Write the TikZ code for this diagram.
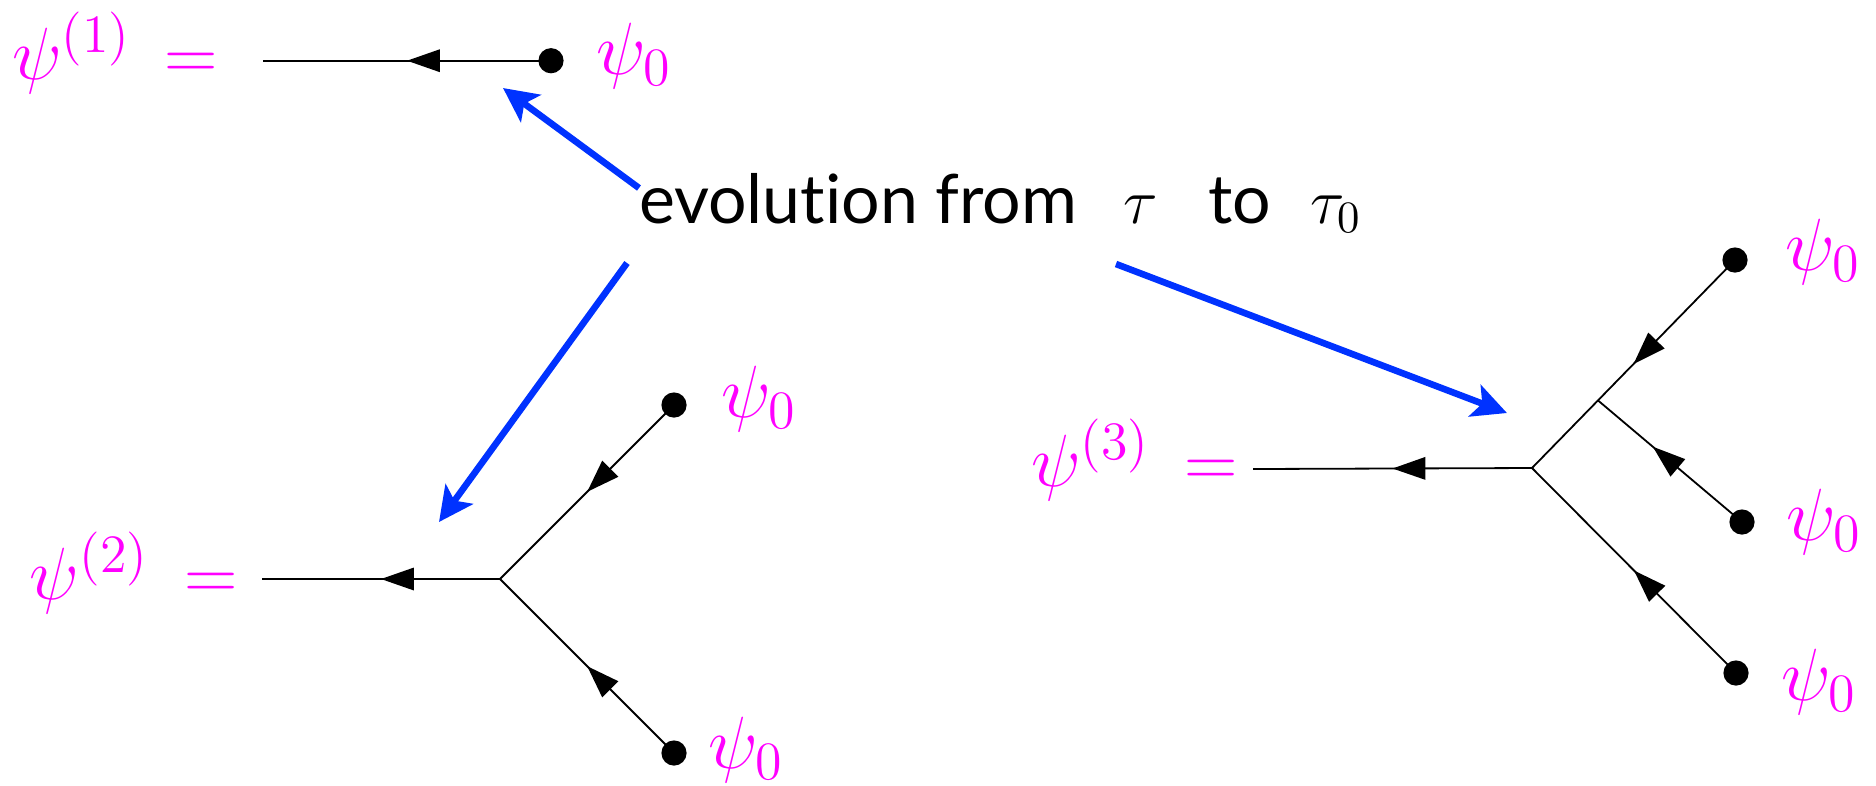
\documentclass[tikz,border=0pt]{standalone}
\usepackage{fix-cm}
\usepackage{fontspec}
\newfontfamily\titlefont[Ligatures={NoCommon}]{Lato}
\DeclareMathSizes{18.5}{18.5}{13.5}{10}
\usetikzlibrary{arrows.meta,decorations.markings,calc}
\definecolor{fblue}{RGB}{0,50,255}
\definecolor{fmag}{RGB}{255,0,255}
\begin{document}
\begin{tikzpicture}[x=0.25pt,y=-0.25pt,
  lbl/.style={anchor=base west,inner sep=0pt,outer sep=0pt,text=fmag,font=\fontsize{18.5}{22}\selectfont},
  ttl/.style={anchor=base west,inner sep=0pt,outer sep=0pt,text=black,font=\fontsize{16}{20}\selectfont},
  ttltext/.style={ttl,font=\titlefont\fontsize{17}{20}\selectfont},
  dotnode/.style={circle,fill=black,inner sep=0pt,minimum size=6.3pt},
  fline/.style={line width=0.45pt,postaction={decorate},decoration={markings,mark=at position #1 with {\arrow{Triangle[length=8.2pt,width=5.6pt]}}}},
  fline/.default=0.5,
  evo/.style={line width=1.65pt,fblue,-{Stealth[length=8.6pt,width=8.4pt,inset=2pt]}}
]
\useasboundingbox (0,0) rectangle (1876,785);

% ---------- diagram 1 ----------
\coordinate (a1) at (263,60.7);
\coordinate (c1) at (551,60.7);
\draw[fline] (c1) -- (a1);
\node[dotnode] (d1) at (c1) {};
\node[lbl] (p1) at (12,79) {$\psi^{(1)}$};
\node[lbl] (q1) at (165,79) {$=$};
\node[lbl] (z1) at (596,74) {$\psi_0$};

% ---------- diagram 2 ----------
\coordinate (a2) at (262,579);
\coordinate (v2) at (500,579);
\coordinate (c2u) at (674,405);
\coordinate (c2l) at (674,753);
\draw[fline] (v2) -- (a2);
\draw[fline] (c2u) -- (v2);
\draw[fline] (c2l) -- (v2);
\node[dotnode] (d2u) at (c2u) {};
\node[dotnode] (d2l) at (c2l) {};
\node[lbl] (p2) at (30,599) {$\psi^{(2)}$};
\node[lbl] (q2) at (184,599) {$=$};
\node[lbl] (z2u) at (721,417) {$\psi_0$};
\node[lbl] (z2l) at (708,768) {$\psi_0$};

% ---------- diagram 3 ----------
\coordinate (a3) at (1253,469);
\coordinate (v3) at (1532,468);
\coordinate (c3u) at (1735,260);
\coordinate (c3m) at (1742,522);
\coordinate (c3l) at (1736,673);
\coordinate (s3) at ($(v3)!0.325!(c3u)$);
\draw[fline] (v3) -- (a3);
\draw[fline] (c3u) -- (v3);
\draw[fline=0.62] (c3m) -- (s3);
\draw[fline] (c3l) -- (v3);
\node[dotnode] (d3u) at (c3u) {};
\node[dotnode] (d3m) at (c3m) {};
\node[dotnode] (d3l) at (c3l) {};
\node[lbl] (p3) at (1031,486) {$\psi^{(3)}$};
\node[lbl] (q3) at (1184,486) {$=$};
\node[lbl] (z3u) at (1785,270) {$\psi_0$};
\node[lbl] (z3m) at (1786,540) {$\psi_0$};
\node[lbl] (z3l) at (1781,700) {$\psi_0$};

% ---------- title ----------
\node[ttltext] (t1) at (639,223) {evolution from};
\node[ttl] (t2) at (1123,223) {$\tau$};
\node[ttltext] (t3) at (1208,223) {to};
\node[ttl] (t4) at (1310,223) {$\tau_0$};

% ---------- blue arrows ----------
\coordinate (b1s) at (639,188);
\coordinate (b1e) at (503,88);
\coordinate (b2s) at (627,263);
\coordinate (b2e) at (439,522);
\coordinate (b3s) at (1116,264);
\coordinate (b3e) at (1507,413);
\draw[evo] (b1s) -- (b1e);
\draw[evo] (b2s) -- (b2e);
\draw[evo] (b3s) -- (b3e);
\end{tikzpicture}
\end{document}
